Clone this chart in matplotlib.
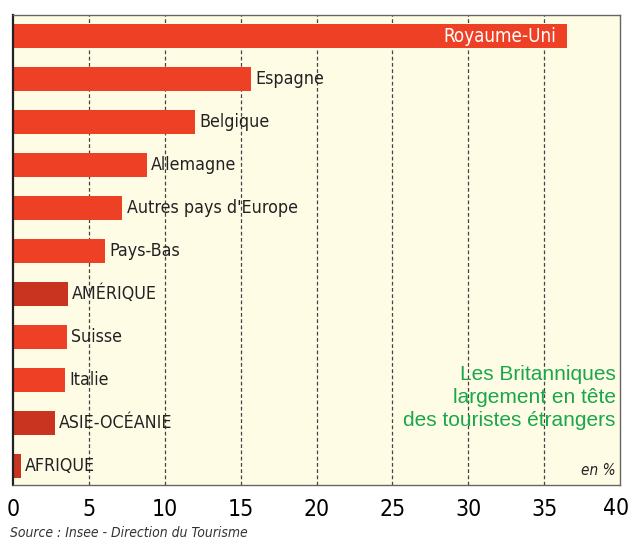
import matplotlib
matplotlib.use("Agg")
import matplotlib.pyplot as plt
from matplotlib.transforms import ScaledTranslation

plt.rcParams['font.family'] = ['Liberation Sans Narrow', 'DejaVu Sans']
plt.rcParams['font.stretch'] = 'condensed'

# données (en %)
pays = ['Royaume-Uni', 'Espagne', 'Belgique', 'Allemagne', "Autres pays d'Europe",
        'Pays-Bas', 'AMÉRIQUE', 'Suisse', 'Italie', 'ASIE-OCÉANIE', 'AFRIQUE']
parts = [36.5, 15.7, 12.0, 8.8, 7.2, 6.05, 3.6, 3.55, 3.4, 2.75, 0.5]
continent = [False, False, False, False, False, False, True, False, False, True, True]
ticks = [0, 5, 10, 15, 20, 25, 30, 35, 40]

rouge = '#EE4025'
rouge_fonce = '#C8341F'

fig = plt.figure(figsize=(6.30, 5.41), dpi=100)
ax = fig.add_axes([13 / 630, 1 - 485 / 541, (620 - 13) / 630, (485 - 15) / 541])
ax.set_facecolor('#FFFCE6')

y = list(range(len(pays)))
couleurs = [rouge_fonce if c else rouge for c in continent]
ax.barh(y, parts, height=0.56, color=couleurs, zorder=2)

for i, (nom, v) in enumerate(zip(pays, parts)):
    if i == 0:
        ax.text(v - 0.7, i, nom, ha='right', va='center', color='white', fontsize=13.5, zorder=3)
    else:
        ax.text(v + 0.3, i, nom, ha='left', va='center', color='#222222', fontsize=12.8, zorder=3)

ax.set_xlim(0, 40)
ax.set_ylim(10.44, -0.49)
ax.set_xticks(ticks)
ax.set_xticklabels([str(t) for t in ticks[:-1]] + [''], fontsize=16.5)
ax.set_yticks([])
ax.tick_params(axis='x', length=0, pad=9)
# dernier libellé (40) collé au bord droit
lab = ax.get_xticklabels()[0]
ax.text(ticks[-1], 0, str(ticks[-1]), fontsize=16.5, ha='right', va='top',
        transform=ax.get_xaxis_transform() + ScaledTranslation(9 / 100, -12 / 100, fig.dpi_scale_trans),
        clip_on=False)
for t in ticks[1:-1]:
    ax.axvline(t, color='#444444', lw=0.9, ls=(0, (3, 2)), zorder=1)
for s in ax.spines.values():
    s.set_color('#666666')
    s.set_linewidth(1.0)
ax.spines['left'].set_color('#222222')
ax.spines['left'].set_linewidth(1.6)

ax.text(0.993, 0.118, 'Les Britanniques\nlargement en tête\ndes touristes étrangers',
        transform=ax.transAxes, ha='right', va='bottom', color='#1AA64A',
        fontsize=15, linespacing=1.26, family=['Liberation Sans', 'DejaVu Sans'],
        stretch='normal')
ax.text(0.993, 0.015, 'en %', transform=ax.transAxes, ha='right', va='bottom',
        style='italic', fontsize=11, color='#222222')

fig.text(10 / 630, 1 - 533 / 541, 'Source : Insee - Direction du Tourisme',
         ha='left', va='center', style='italic', fontsize=10, color='#333333')

fig.savefig('out.png', dpi=100)
